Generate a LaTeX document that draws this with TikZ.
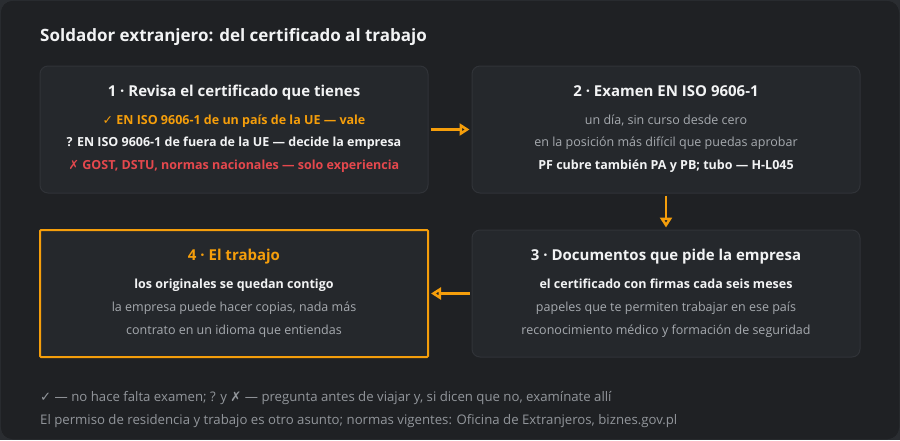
\documentclass[tikz,border=0pt]{standalone}
\usepackage{fontspec}
\setmainfont{Open Sans}
\newfontfamily\symfont{DejaVu Sans}
\usetikzlibrary{arrows.meta}
\definecolor{pagebg}{HTML}{2A2D31}
\definecolor{framebg}{HTML}{1F2124}
\definecolor{frameline}{HTML}{2E3135}
\definecolor{boxbg}{HTML}{25282C}
\definecolor{boxline}{HTML}{303338}
\definecolor{accent}{HTML}{F59E0B}
\definecolor{warn}{HTML}{E5484D}
\definecolor{soft}{HTML}{A6AAAF}
\definecolor{dim}{HTML}{92969B}
\definecolor{bright}{HTML}{F2F3F4}
\tikzset{
    card/.style = {draw=boxline, fill=boxbg, line width=1pt, rounded corners=8pt,
        minimum width=388pt, minimum height=127pt, inner sep=0pt},
    head/.style = {anchor=base, text=bright, font=\fontsize{15}{18}\selectfont\bfseries},
    strong/.style = {anchor=base, text=bright, font=\fontsize{12.5}{15}\selectfont\bfseries},
    plain/.style = {anchor=base, text=soft, font=\fontsize{12.5}{15}\selectfont},
    note/.style = {anchor=base west, inner sep=0pt, text=dim, font=\fontsize{13.2}{15}\selectfont},
    flow/.style = {-{Triangle[open, length=10pt, width=12pt]}, draw=accent,
        line width=2.5pt, shorten <=2pt, shorten >=2pt}
}

\begin{document}
\begin{tikzpicture}[x=1pt,y=-1pt]
        \useasboundingbox (0,0) rectangle (900,440);
        \fill[pagebg] (0,0) rectangle (900,440);
        \draw[fill=framebg, draw=frameline, rounded corners=12pt] (0.5,0.5) rectangle (899.5,439.5);

        \node[anchor=base west, inner sep=0pt, text=bright, font=\fontsize{17}{20}\selectfont\bfseries] (t) at (40,41)
            {Soldador extranjero: del certificado al trabajo};

        % the four steps
        \node[card] (1) at (234,129.5) {};
        \node[card] (2) at (666,129.5) {};
        \node[card] (3) at (666,293.5) {};
        \node[card, draw=accent, line width=2pt, rounded corners=1pt] (4) at (234,293.5) {};

        \node[head] (1t) at (234,96) {1 · Revisa el certificado que tienes};
        \node[strong, text=accent] (1a) at (234,124) {{\symfont\bfseries ✓} EN ISO 9606-1 de un país de la UE — vale};
        \node[strong] (1b) at (234,146.5) {? EN ISO 9606-1 de fuera de la UE — decide la empresa};
        \node[strong, text=warn] (1c) at (234,169) {{\symfont\bfseries ✗} GOST, DSTU, normas nacionales — solo experiencia};

        \node[head] (2t) at (666,96) {2 · Examen EN ISO 9606-1};
        \node[plain] (2a) at (666,124) {un día, sin curso desde cero};
        \node[plain] (2b) at (666,146.5) {en la posición más difícil que puedas aprobar};
        \node[strong] (2c) at (666,169) {PF cubre también PA y PB; tubo — H-L045};

        \node[head] (3t) at (666,260) {3 · Documentos que pide la empresa};
        \node[strong] (3a) at (666,288) {el certificado con firmas cada seis meses};
        \node[plain] (3b) at (666,311) {papeles que te permiten trabajar en ese país};
        \node[plain] (3c) at (666,334) {reconocimiento médico y formación de seguridad};

        \node[head, text=accent] (4t) at (234,260) {4 · El trabajo};
        \node[strong] (4a) at (234,288) {los originales se quedan contigo};
        \node[plain] (4b) at (234,311) {la empresa puede hacer copias, nada más};
        \node[plain] (4c) at (234,334) {contrato en un idioma que entiendas};

        \path[flow]
            (1) edge (2)
            (2) edge (3)
            (3) edge (4)
        ;

        \node[note] (n1) at (40,401) {{\symfont ✓} — no hace falta examen; ? y {\symfont ✗} — pregunta antes de viajar y, si dicen que no, examínate allí};
        \node[note] (n2) at (40,424) {El permiso de residencia y trabajo es otro asunto; normas vigentes: Oficina de Extranjeros, biznes.gov.pl};
    \end{tikzpicture}
\end{document}
